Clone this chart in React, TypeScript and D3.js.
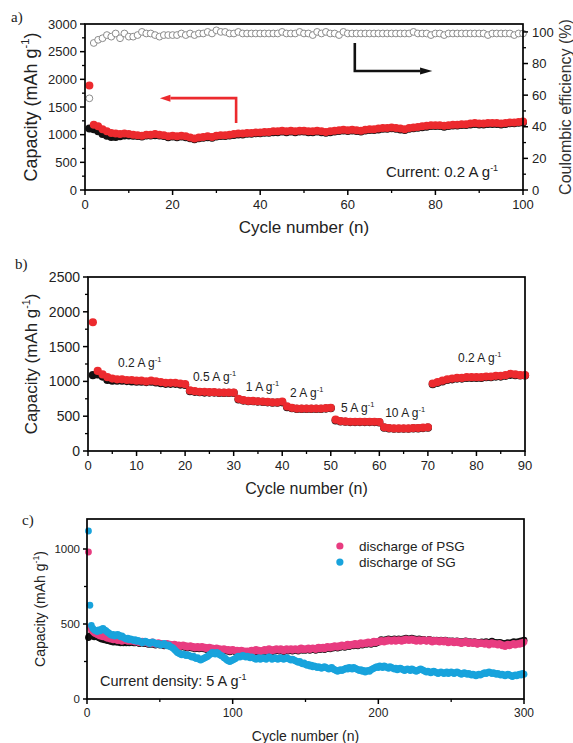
import React from 'react';
import * as d3 from 'd3';

const FONT = "'Liberation Sans', Arial, Helvetica, sans-serif";

// ---------- Panel a data ----------
const cyclesA = d3.range(1, 101);
const ceA = [
  58, 93, 95, 96, 98, 97, 99, 96, 99, 97,
  97, 98, 100, 99, 99, 98, 97, 98, 98, 98,
  98, 99, 98, 99, 98, 99, 99, 100, 99, 101,
  100, 100, 99, 99, 100, 99, 99, 99, 99, 99,
  99, 99, 99, 99, 100, 99, 99, 99, 100, 99,
  99, 98, 100, 99, 100, 99, 99, 98, 100, 99,
  99, 99, 99, 99, 99, 99, 99, 99, 99, 99,
  99, 99, 99, 99, 100, 99, 99, 99, 98, 99,
  99, 98, 99, 99, 99, 99, 99, 99, 99, 99,
  99, 98, 99, 99, 99, 99, 99, 98, 99, 99,
];
const dischargeA = [
  1890, 1180, 1150, 1100, 1060, 1030, 1020, 1010, 1020, 1010,
  1000, 990, 980, 1000, 1000, 1010, 1000, 990, 970, 980,
  970, 980, 970, 950, 930, 950, 960, 970, 960, 980,
  990, 990, 1000, 1010, 1020, 1020, 1030, 1030, 1040, 1040,
  1050, 1050, 1060, 1060, 1070, 1060, 1070, 1060, 1070, 1070,
  1060, 1060, 1070, 1060, 1050, 1060, 1070, 1080, 1090, 1080,
  1090, 1080, 1070, 1090, 1100, 1100, 1110, 1120, 1120, 1130,
  1120, 1110, 1100, 1120, 1130, 1140, 1150, 1160, 1170, 1170,
  1170, 1160, 1170, 1180, 1180, 1190, 1190, 1200, 1210, 1200,
  1200, 1210, 1210, 1210, 1200, 1210, 1220, 1220, 1230, 1240,
];
const chargeA = [
  1110, 1100, 1060, 1010, 980, 960, 960, 970, 985, 985,
  980, 975, 965, 985, 985, 990, 985, 975, 955, 965,
  955, 965, 955, 935, 915, 935, 945, 955, 945, 965,
  975, 975, 985, 995, 1005, 1005, 1015, 1015, 1025, 1025,
  1035, 1035, 1045, 1045, 1055, 1045, 1055, 1045, 1055, 1055,
  1045, 1045, 1055, 1045, 1035, 1045, 1055, 1065, 1075, 1065,
  1075, 1065, 1055, 1075, 1085, 1085, 1095, 1105, 1105, 1115,
  1105, 1095, 1085, 1105, 1115, 1125, 1135, 1145, 1155, 1155,
  1155, 1145, 1155, 1165, 1165, 1175, 1175, 1185, 1195, 1185,
  1185, 1195, 1195, 1195, 1185, 1195, 1205, 1205, 1215, 1220,
];
const ticksAx = [0, 20, 40, 60, 80, 100];
const ticksAy = [0, 500, 1000, 1500, 2000, 2500, 3000];
const ticksAce = [0, 20, 40, 60, 80, 100];

// ---------- Panel b data ----------
const cyclesB = d3.range(1, 91);
const dischargeB = [
  1850, 1150, 1100, 1060, 1040, 1030, 1030, 1020, 1020, 1010,
  1010, 1000, 1010, 1000, 990, 980, 980, 980, 970, 960,
  870, 860, 850, 850, 845, 845, 840, 840, 840, 840,
  750, 730, 720, 720, 715, 710, 705, 700, 700, 710,
  640, 620, 610, 610, 610, 610, 610, 610, 615, 620,
  450, 430, 425, 420, 420, 420, 420, 420, 420, 415,
  340, 330, 325, 325, 325, 325, 330, 330, 335, 340,
  970, 990, 1010, 1030, 1040, 1050, 1050, 1060, 1060, 1060,
  1060, 1070, 1070, 1080, 1080, 1090, 1110, 1100, 1090, 1090,
];
const chargeB = [
  1090, 1100, 1070, 1020, 1010, 1010, 1010, 1005, 1000, 995,
  995, 990, 995, 985, 975, 965, 965, 965, 955, 950,
  860, 850, 845, 840, 840, 840, 835, 835, 835, 835,
  740, 725, 715, 715, 710, 705, 700, 695, 695, 700,
  630, 615, 605, 605, 605, 605, 605, 605, 610, 615,
  440, 425, 420, 415, 415, 415, 415, 415, 415, 410,
  335, 325, 320, 320, 320, 320, 325, 325, 330, 335,
  960, 980, 1000, 1020, 1030, 1040, 1040, 1050, 1050, 1050,
  1050, 1060, 1060, 1070, 1070, 1080, 1095, 1090, 1085, 1085,
];
const ticksBx = [0, 10, 20, 30, 40, 50, 60, 70, 80, 90];
const ticksBy = [0, 500, 1000, 1500, 2000, 2500];
const rateLabels = ['0.2 A g', '0.5 A g', '1 A g', '2 A g', '5 A g', '10 A g', '0.2 A g'];
const rateLabelCycle = [6.2, 21.6, 32.5, 41.6, 52.1, 61.2, 76.2];
const rateLabelCap = [1207, 1006, 862, 776, 560, 489, 1279];

// ---------- Panel c data ----------
const cyclesC = d3.range(1, 301);
const psgDischarge = [
  980, 480, 460, 450, 440, 435, 430, 425, 420, 420,
  415, 420, 410, 405, 410, 400, 405, 395, 400, 395,
  390, 395, 390, 385, 390, 395, 390, 385, 390, 385,
  390, 385, 380, 385, 380, 375, 380, 385, 375, 380,
  375, 370, 375, 370, 380, 370, 365, 370, 375, 365,
  370, 365, 360, 365, 370, 360, 365, 355, 360, 365,
  360, 355, 360, 350, 355, 360, 350, 355, 345, 350,
  355, 345, 350, 340, 345, 350, 340, 345, 350, 340,
  345, 335, 340, 345, 335, 340, 330, 335, 340, 330,
  335, 330, 325, 335, 330, 325, 330, 320, 325, 330,
  325, 320, 325, 315, 320, 325, 315, 320, 310, 320,
  315, 320, 325, 315, 320, 330, 320, 325, 315, 320,
  325, 330, 320, 325, 335, 325, 320, 330, 325, 335,
  330, 325, 335, 330, 320, 330, 335, 325, 330, 335,
  325, 330, 335, 330, 325, 335, 340, 330, 335, 330,
  335, 340, 330, 335, 340, 335, 330, 340, 345, 335,
  340, 345, 335, 340, 350, 345, 340, 350, 345, 355,
  350, 345, 355, 350, 360, 355, 350, 360, 365, 355,
  360, 365, 360, 370, 365, 360, 370, 375, 365, 370,
  375, 370, 380, 375, 370, 380, 385, 375, 380, 385,
  380, 390, 385, 380, 390, 385, 395, 390, 385, 390,
  395, 385, 390, 395, 390, 385, 395, 390, 400, 395,
  390, 395, 400, 390, 395, 385, 390, 395, 385, 390,
  395, 390, 385, 390, 395, 385, 380, 390, 385, 390,
  385, 380, 390, 385, 380, 390, 385, 375, 385, 380,
  385, 375, 380, 385, 375, 380, 370, 380, 375, 385,
  375, 370, 380, 375, 370, 380, 375, 365, 375, 370,
  375, 370, 365, 375, 370, 360, 370, 375, 365, 370,
  365, 360, 370, 365, 355, 360, 350, 360, 365, 355,
  360, 365, 370, 360, 365, 370, 365, 375, 370, 380,
];
const psgCharge = [
  410, 420, 425, 420, 415, 420, 415, 410, 405, 400,
  400, 395, 395, 390, 390, 385, 385, 380, 385, 380,
  380, 380, 375, 380, 375, 380, 375, 380, 375, 380,
  380, 375, 375, 380, 375, 370, 375, 380, 370, 375,
  370, 365, 370, 365, 375, 365, 360, 365, 370, 360,
  365, 360, 355, 360, 365, 355, 360, 350, 355, 360,
  355, 350, 355, 345, 350, 355, 345, 350, 340, 345,
  350, 340, 345, 335, 340, 345, 335, 340, 345, 335,
  340, 330, 335, 340, 330, 335, 325, 330, 335, 325,
  330, 325, 320, 330, 325, 320, 325, 315, 320, 325,
  320, 315, 320, 310, 315, 320, 310, 315, 305, 315,
  310, 315, 320, 310, 315, 325, 315, 320, 310, 315,
  320, 325, 315, 320, 330, 320, 315, 325, 320, 330,
  325, 320, 330, 325, 315, 325, 330, 320, 325, 330,
  320, 325, 330, 325, 320, 330, 335, 325, 330, 325,
  330, 335, 325, 330, 335, 330, 325, 335, 340, 330,
  335, 340, 330, 335, 345, 340, 335, 345, 340, 350,
  345, 340, 350, 345, 355, 350, 345, 355, 360, 350,
  355, 360, 355, 365, 360, 355, 365, 370, 360, 365,
  370, 365, 375, 370, 365, 375, 380, 370, 375, 380,
  385, 395, 390, 385, 395, 390, 400, 395, 390, 395,
  400, 392, 395, 400, 395, 392, 400, 395, 405, 400,
  398, 400, 405, 395, 400, 392, 395, 400, 392, 395,
  398, 392, 388, 392, 398, 388, 385, 392, 388, 392,
  388, 383, 392, 388, 382, 392, 388, 378, 388, 382,
  388, 378, 382, 388, 378, 382, 373, 382, 378, 388,
  378, 373, 382, 378, 373, 382, 378, 368, 378, 373,
  380, 378, 375, 382, 378, 370, 378, 385, 375, 378,
  375, 370, 378, 375, 365, 370, 362, 372, 376, 368,
  372, 378, 382, 372, 378, 382, 378, 388, 382, 392,
];
const sgDischarge = [
  1120, 625, 490, 470, 460, 455, 450, 460, 455, 465,
  470, 460, 455, 445, 440, 430, 425, 430, 420, 425,
  430, 425, 415, 420, 410, 405, 400, 405, 395, 400,
  395, 390, 395, 385, 390, 385, 380, 375, 380, 385,
  380, 375, 370, 375, 380, 375, 370, 365, 370, 365,
  360, 365, 370, 360, 355, 360, 350, 345, 340, 330,
  320, 310, 305, 300, 295, 300, 295, 290, 295, 290,
  285, 280, 285, 275, 270, 275, 265, 260, 265, 270,
  275, 280, 285, 295, 300, 310, 305, 300, 310, 305,
  295, 290, 285, 275, 270, 260, 255, 250, 255, 260,
  265, 270, 280, 285, 280, 285, 290, 285, 280, 285,
  280, 275, 280, 275, 270, 265, 270, 275, 265, 270,
  275, 270, 265, 275, 280, 275, 265, 270, 275, 270,
  265, 270, 275, 270, 265, 270, 275, 270, 265, 260,
  265, 260, 255, 250, 245, 250, 240, 235, 240, 230,
  225, 230, 220, 225, 215, 220, 215, 210, 215, 210,
  205, 210, 215, 210, 205, 200, 205, 210, 200, 195,
  190, 185, 190, 195, 190, 195, 200, 205, 200, 210,
  205, 200, 210, 205, 200, 195, 190, 195, 185, 190,
  180, 185, 190, 185, 195, 200, 205, 210, 215, 210,
  220, 215, 210, 220, 215, 210, 205, 215, 210, 205,
  200, 205, 195, 200, 205, 200, 195, 190, 195, 200,
  195, 190, 200, 195, 190, 185, 190, 195, 200, 195,
  190, 185, 180, 185, 180, 175, 180, 185, 180, 175,
  170, 175, 180, 175, 170, 175, 180, 170, 175, 180,
  175, 170, 175, 180, 175, 170, 165, 170, 175, 170,
  165, 170, 165, 160, 165, 160, 155, 160, 165, 160,
  165, 170, 175, 170, 175, 180, 175, 170, 175, 170,
  165, 170, 165, 160, 165, 160, 155, 160, 165, 160,
  155, 150, 155, 160, 155, 160, 165, 160, 170, 165,
];
const ticksCx = [0, 100, 200, 300];
const ticksCy = [0, 500, 1000];
const legendC = ['discharge of PSG', 'discharge of SG'];

// ---------- colours ----------
const RED = '#ec2a2e';
const BLACK = '#111111';
const PINK = '#e83c80';
const CYAN = '#18a3dc';
const GRAY = '#8c8c8c';

type Lin = d3.ScaleLinear<number, number>;

function Sup({ base, size }: { base: string; size: number }) {
  const s = size * 0.62;
  return (
    <>
      <tspan>{base}</tspan>
      <tspan fontSize={s} dy={-size * 0.42}>-1</tspan>
    </>
  );
}

function LeftAxis({ y, x0, major, minorStep, fs, tickLen = 5 }: { y: Lin; x0: number; major: number[]; minorStep: number; fs: number; tickLen?: number }) {
  const [lo, hi] = y.domain();
  const minors = d3.range(lo, hi + 1e-9, minorStep).filter((v) => !major.includes(v));
  return (
    <g>
      {minors.map((v) => (
        <line key={'m' + v} x1={x0 - 3} x2={x0} y1={y(v)} y2={y(v)} stroke="#000" strokeWidth={1.3} />
      ))}
      {major.map((v) => (
        <g key={v}>
          <line x1={x0 - tickLen} x2={x0} y1={y(v)} y2={y(v)} stroke="#000" strokeWidth={1.5} />
          <text x={x0 - tickLen - 3} y={y(v)} dy="0.36em" textAnchor="end" fontSize={fs} fill="#222">{v}</text>
        </g>
      ))}
    </g>
  );
}

function RightAxis({ y, x0, major, minorStep, fs }: { y: Lin; x0: number; major: number[]; minorStep: number; fs: number }) {
  const minors = d3.range(0, 105, minorStep).filter((v) => !major.includes(v));
  return (
    <g>
      {minors.map((v) => (
        <line key={'m' + v} x1={x0} x2={x0 + 3} y1={y(v)} y2={y(v)} stroke="#000" strokeWidth={1.3} />
      ))}
      {major.map((v) => (
        <g key={v}>
          <line x1={x0} x2={x0 + 5} y1={y(v)} y2={y(v)} stroke="#000" strokeWidth={1.5} />
          <text x={x0 + 9} y={y(v)} dy="0.36em" textAnchor="start" fontSize={fs} fill="#222">{v}</text>
        </g>
      ))}
    </g>
  );
}

function BottomAxis({ x, y0, major, minorStep, fs }: { x: Lin; y0: number; major: number[]; minorStep: number; fs: number }) {
  const [lo, hi] = x.domain();
  const minors = d3.range(lo, hi + 1e-9, minorStep).filter((v) => !major.includes(v));
  return (
    <g>
      {minors.map((v) => (
        <line key={'m' + v} x1={x(v)} x2={x(v)} y1={y0} y2={y0 + 3} stroke="#000" strokeWidth={1.3} />
      ))}
      {major.map((v) => (
        <g key={v}>
          <line x1={x(v)} x2={x(v)} y1={y0} y2={y0 + 5} stroke="#000" strokeWidth={1.5} />
          <text x={x(v)} y={y0 + 14} dy="0.36em" textAnchor="middle" fontSize={fs} fill="#222">{v}</text>
        </g>
      ))}
    </g>
  );
}

export default function App() {
  // Panel a geometry
  const aL = 85, aR = 523, aT = 24, aB = 190;
  const xA = d3.scaleLinear().domain([0, 100]).range([aL, aR]);
  const yA = d3.scaleLinear().domain([0, 3000]).range([aB, aT]);
  const yCE = d3.scaleLinear().domain([0, 105]).range([aB, aT]);

  // Panel b geometry
  const bL = 88, bR = 525, bT = 277, bB = 451;
  const xB = d3.scaleLinear().domain([0, 90]).range([bL, bR]);
  const yB = d3.scaleLinear().domain([0, 2500]).range([bB, bT]);

  // Panel c geometry
  const cL = 87, cR = 524, cT = 519, cB = 699;
  const xC = d3.scaleLinear().domain([0, 300]).range([cL, cR]);
  const yC = d3.scaleLinear().domain([0, 1200]).range([cB, cT]);

  const arrowRedPath = d3.line()([
    [xA(34.5), yA(1210)],
    [xA(34.5), yA(1660)],
    [xA(19.5), yA(1660)],
  ]);
  const arrowBlackPath = d3.line()([
    [xA(61.6), yCE(93)],
    [xA(61.6), yCE(75.3)],
    [xA(76.5), yCE(75.3)],
  ]);

  return (
    <svg
      width={573}
      height={743}
      style={{ position: 'absolute', left: 0, top: 0, background: '#fff' }}
      fontFamily={FONT}
    >
      {/* ================= Panel a ================= */}
      <text x={11} y={22} fontFamily="'Liberation Serif', 'Times New Roman', serif" fontSize={15} fill="#222">a)</text>
      {cyclesA.map((c, i) => (
        <circle key={'ce' + c} cx={xA(c)} cy={yCE(ceA[i])} r={3.4} fill="#fff" stroke={GRAY} strokeWidth={1} />
      ))}
      {cyclesA.map((c, i) => (
        <circle key={'ca' + c} cx={xA(c)} cy={yA(chargeA[i])} r={4} fill={BLACK} />
      ))}
      {cyclesA.map((c, i) => (
        <circle key={'da' + c} cx={xA(c)} cy={yA(dischargeA[i])} r={4} fill={RED} />
      ))}
      {/* arrows */}
      <path d={arrowRedPath || ''} fill="none" stroke={RED} strokeWidth={2.6} />
      <path
        d={d3.line()([[xA(19.5), yA(1660) - 3.5], [xA(17.1), yA(1660)], [xA(19.5), yA(1660) + 3.5]]) + 'Z'}
        fill={RED}
      />
      <path d={arrowBlackPath || ''} fill="none" stroke={BLACK} strokeWidth={2.6} />
      <path
        d={d3.line()([[xA(76.5), yCE(75.3) - 3.5], [xA(79.3), yCE(75.3)], [xA(76.5), yCE(75.3) + 3.5]]) + 'Z'}
        fill={BLACK}
      />
      <rect x={aL} y={aT} width={aR - aL} height={aB - aT} fill="none" stroke="#000" strokeWidth={1.7} />
      <LeftAxis y={yA} x0={aL} major={ticksAy} minorStep={250} fs={13} />
      <RightAxis y={yCE} x0={aR} major={ticksAce} minorStep={10} fs={13} />
      <BottomAxis x={xA} y0={aB} major={ticksAx} minorStep={10} fs={13} />
      <text x={xA(68.7)} y={yA(235)} fontSize={15} fill="#222">
        <tspan>Current: 0.2 A g</tspan>
        <tspan fontSize={9} dy={-6}>-1</tspan>
      </text>
      <text transform={`translate(37,${(aT + aB) / 2}) rotate(-90)`} textAnchor="middle" fontSize={18} fill="#222">
        <Sup base="Capacity (mAh g" size={18} />
        <tspan dy={18 * 0.42}>)</tspan>
      </text>
      <text transform={`translate(571,${(aT + aB) / 2}) rotate(-90)`} textAnchor="middle" fontSize={16} fill="#333">
        Coulombic efficiency (%)
      </text>
      <text x={(aL + aR) / 2} y={233} textAnchor="middle" fontSize={17} fill="#222">Cycle number (n)</text>

      {/* ================= Panel b ================= */}
      <text x={15} y={269} fontFamily="'Liberation Serif', 'Times New Roman', serif" fontSize={15} fill="#222">b)</text>
      {cyclesB.map((c, i) => (
        <circle key={'cb' + c} cx={xB(c)} cy={yB(chargeB[i])} r={4.1} fill={BLACK} />
      ))}
      {cyclesB.map((c, i) => (
        <circle key={'db' + c} cx={xB(c)} cy={yB(dischargeB[i])} r={4.1} fill={RED} />
      ))}
      {rateLabels.map((lab, i) => (
        <text key={'rl' + i} x={xB(rateLabelCycle[i])} y={yB(rateLabelCap[i])} fontSize={12} fill="#222">
          <tspan>{lab}</tspan>
          <tspan fontSize={7.5} dy={-5}>-1</tspan>
        </text>
      ))}
      <rect x={bL} y={bT} width={bR - bL} height={bB - bT} fill="none" stroke="#000" strokeWidth={1.7} />
      <LeftAxis y={yB} x0={bL} major={ticksBy} minorStep={250} fs={14} />
      <BottomAxis x={xB} y0={bB} major={ticksBx} minorStep={5} fs={13} />
      <text transform={`translate(37,${(bT + bB) / 2}) rotate(-90)`} textAnchor="middle" fontSize={17} fill="#222">
        <Sup base="Capacity (mAh g" size={17} />
        <tspan dy={17 * 0.42}>)</tspan>
      </text>
      <text x={(bL + bR) / 2} y={494} textAnchor="middle" fontSize={16} fill="#222">Cycle number (n)</text>

      {/* ================= Panel c ================= */}
      <text x={22} y={525} fontFamily="'Liberation Serif', 'Times New Roman', serif" fontSize={15} fill="#222">c)</text>
      {cyclesC.map((c, i) => (
        <circle key={'pc' + c} cx={xC(c)} cy={yC(psgCharge[i])} r={3.4} fill={BLACK} />
      ))}
      {cyclesC.map((c, i) => (
        <circle key={'pd' + c} cx={xC(c)} cy={yC(psgDischarge[i])} r={3.4} fill={PINK} />
      ))}
      {cyclesC.map((c, i) => (
        <circle key={'sd' + c} cx={xC(c)} cy={yC(sgDischarge[i])} r={3.4} fill={CYAN} />
      ))}
      <rect x={cL} y={cT} width={cR - cL} height={cB - cT} fill="none" stroke="#000" strokeWidth={1.7} />
      <LeftAxis y={yC} x0={cL} major={ticksCy} minorStep={250} fs={11.5} tickLen={4} />
      <BottomAxis x={xC} y0={cB} major={ticksCx} minorStep={50} fs={12} />
      {legendC.map((lab, i) => (
        <g key={lab}>
          <circle cx={xC(173.6)} cy={yC(1020 - i * 107)} r={3.6} fill={i === 0 ? PINK : CYAN} />
          <text x={xC(186.7)} y={yC(1020 - i * 107)} dy="0.36em" fontSize={13.5} fill="#222">{lab}</text>
        </g>
      ))}
      <text x={xC(8.9)} y={yC(87)} fontSize={14.5} fill="#222">
        <tspan>Current density: 5 A g</tspan>
        <tspan fontSize={9} dy={-6}>-1</tspan>
      </text>
      <text transform={`translate(45,${(cT + cB) / 2}) rotate(-90)`} textAnchor="middle" fontSize={14} fill="#222">
        <Sup base="Capacity (mAh g" size={14} />
        <tspan dy={14 * 0.42}>)</tspan>
      </text>
      <text x={(cL + cR) / 2} y={741} textAnchor="middle" fontSize={14} fill="#222">Cycle number (n)</text>
    </svg>
  );
}
